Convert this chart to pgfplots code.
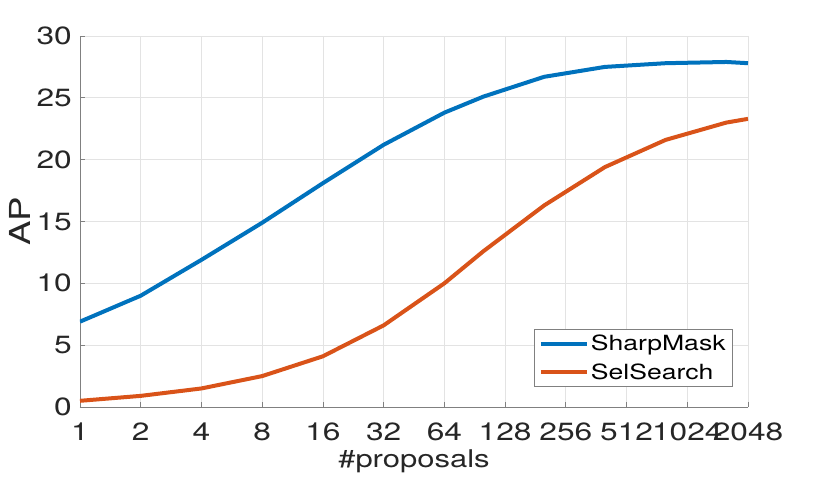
\documentclass[border=0pt]{standalone}
\usepackage{fontspec}
\setmainfont{TeX Gyre Heros}[FakeStretch=1.27]
\usepackage{pgfplots}
\pgfplotsset{compat=1.18}

\definecolor{mblue}{HTML}{0072BD}
\definecolor{morange}{HTML}{D95319}
\definecolor{axgray}{HTML}{808080}
\definecolor{txt}{HTML}{262626}
\definecolor{gridc}{HTML}{E3E3E3}

\begin{document}
\begin{tikzpicture}
\begin{axis}[
    scale only axis,
    width=668bp, height=371bp,
    xmode=log, log basis x=2,
    xmin=1, xmax=2048, ymin=0, ymax=30,
    xtick={1,2,4,8,16,32,64,128,256,512,1024,2048},
    xticklabels={1,2,4,8,16,32,64,128,256,512,1024,2048},
    ytick={0,5,...,30},
    /pgf/number format/assume math mode=true,
    axis x line*=bottom, axis y line*=left,
    axis line style={axgray, line width=0.8bp, -},
    every tick/.style={axgray, line width=0.8bp},
    major tick length=5bp,
    grid=major,
    major grid style={gridc, line width=0.7bp},
    tick label style={font=\fontsize{25}{28}\selectfont, text=txt, inner sep=0pt},
    xticklabel style={anchor=north, yshift=-16bp},
    yticklabel style={anchor=east, xshift=-8bp},
    label style={font=\fontsize{24.5}{28}\selectfont, text=txt},
    xlabel={\#proposals},
    xlabel style={at={(axis description cs:0.5,0)}, anchor=north, inner sep=0pt, yshift=-43bp},
    ylabel={AP},
    ylabel style={at={(axis description cs:-0.0898,0.5)}, anchor=center, inner sep=0pt,
        font=\fontsize{29}{32}\selectfont},
    legend style={at={(axis description cs:1,0)}, anchor=south east,
        xshift=-15bp, yshift=20bp, draw=axgray, line width=0.8bp,
        font=\fontsize{21}{24}\selectfont, text=black,
        inner xsep=5bp, inner ysep=4bp, row sep=7bp,
        nodes={inner sep=2bp}},
    legend cell align=left,
    legend image code/.code={\draw[#1] (0bp,0bp) -- (46bp,0bp);},
]
\addplot[mblue, line width=4bp] coordinates {
    (1,6.9) (2,9.0) (4,11.9) (8,14.9) (16,18.1) (32,21.2) (64,23.8)
    (100,25.1) (200,26.7) (400,27.5) (800,27.8) (1600,27.9) (2048,27.8)
};
\addlegendentry{SharpMask}
\addplot[morange, line width=4bp] coordinates {
    (1,0.5) (2,0.9) (4,1.5) (8,2.5) (16,4.1) (32,6.6) (64,10.0)
    (100,12.6) (200,16.3) (400,19.4) (800,21.6) (1600,23.0) (2048,23.3)
};
\addlegendentry{SelSearch}
\end{axis}
\pgfresetboundingbox
\path[use as bounding box] (-80bp,-72bp) rectangle (750bp,407bp);
\end{tikzpicture}
\end{document}
